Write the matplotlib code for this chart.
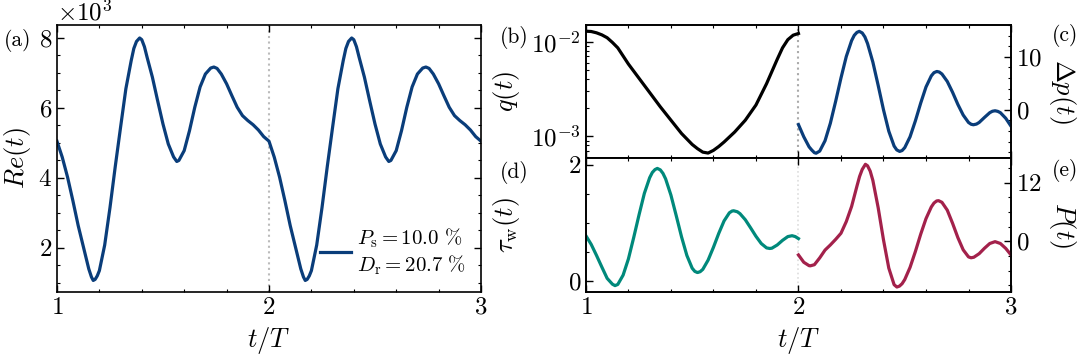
import matplotlib
matplotlib.use("Agg")
import matplotlib.pyplot as plt
import numpy as np
from matplotlib.ticker import AutoMinorLocator, NullFormatter

plt.rcParams['font.family'] = 'serif'
plt.rcParams['font.serif'] = ['cmr10']
plt.rcParams['mathtext.fontset'] = 'cm'
plt.rcParams['axes.unicode_minus'] = False
plt.rcParams['axes.formatter.use_mathtext'] = True
plt.rcParams['font.size'] = 18
plt.rcParams['axes.labelsize'] = 19

# colours
c_blue = '#0a3d7a'
c_teal = '#00897b'
c_red = '#a3214b'

# (a) Re(t), one period (t = 1..2), repeated for 2..3
t_re = [1.0, 1.025, 1.05, 1.075, 1.1, 1.125, 1.15, 1.1625, 1.171, 1.18,
        1.19, 1.2, 1.225, 1.25, 1.275, 1.3, 1.325, 1.35, 1.3625, 1.375,
        1.39, 1.4, 1.4125, 1.425, 1.45, 1.475, 1.5, 1.525, 1.55, 1.565,
        1.575, 1.6, 1.625, 1.65, 1.675, 1.7, 1.725, 1.74, 1.755, 1.775,
        1.8, 1.825, 1.85, 1.875, 1.9, 1.925, 1.95, 1.975, 2.0]
re_vals = [5050, 4590, 4020, 3350, 2640, 2020, 1400, 1170, 1070, 1100,
           1200, 1350, 2080, 3150, 4330, 5450, 6550, 7350, 7700, 7900,
           8000, 7950, 7750, 7450, 6880, 6200, 5540, 4970, 4600, 4470,
           4500, 4780, 5350, 6020, 6600, 6970, 7140, 7170, 7130, 6970,
           6690, 6350, 6020, 5780, 5640, 5520, 5370, 5180, 5050]

# (b) q(t), t = 1..2
t_q = [1.0, 1.025, 1.05, 1.075, 1.1, 1.125, 1.15, 1.2, 1.25, 1.3, 1.35,
       1.4, 1.45, 1.5, 1.525, 1.55, 1.575, 1.6, 1.625, 1.65, 1.7, 1.75,
       1.8, 1.85, 1.9, 1.925, 1.95, 1.975, 2.0]
q_vals = [1.29e-2, 1.28e-2, 1.24e-2, 1.18e-2, 1.10e-2, 9.8e-3, 8.6e-3,
          5.8e-3, 4.1e-3, 2.9e-3, 2.05e-3, 1.48e-3, 1.07e-3, 8.2e-4,
          7.4e-4, 6.8e-4, 6.65e-4, 7.1e-4, 7.8e-4, 8.7e-4, 1.11e-3,
          1.48e-3, 2.14e-3, 3.6e-3, 6.5e-3, 8.6e-3, 1.05e-2, 1.17e-2,
          1.22e-2]

# (c) Delta p(t), t = 2..3
t_dp = [2.0, 2.025, 2.05, 2.0625, 2.075, 2.083, 2.1, 2.125, 2.15, 2.175,
        2.2, 2.225, 2.25, 2.2625, 2.275, 2.286, 2.3, 2.3125, 2.325, 2.35,
        2.375, 2.4, 2.425, 2.45, 2.4625, 2.476, 2.4875, 2.5, 2.525, 2.55,
        2.575, 2.6, 2.625, 2.6375, 2.651, 2.6625, 2.675, 2.7, 2.725, 2.75,
        2.775, 2.8, 2.8125, 2.823, 2.8375, 2.85, 2.875, 2.9, 2.9125, 2.925,
        2.9375, 2.95, 2.975, 3.0]
dp_vals = [-2.8, -5.1, -7.0, -7.6, -8.1, -8.2, -7.8, -5.85, -2.55, 1.6,
           6.0, 10.05, 13.05, 14.05, 14.6, 14.8, 14.5, 13.75, 12.5, 9.0,
           4.6, 0.0, -4.05, -6.85, -7.58, -7.86, -7.7, -7.15, -5.1, -2.1,
           1.25, 4.3, 6.4, 7.0, 7.23, 7.12, 6.75, 5.35, 3.3, 1.0,
           -1.0, -2.4, -2.74, -2.83, -2.7, -2.4, -1.45, -0.55, -0.28, -0.19,
           -0.3, -0.55, -1.6, -3.1]

# (d) tau_w(t), t = 1..2
t_tau = [1.0, 1.025, 1.05, 1.075, 1.1, 1.125, 1.137, 1.15, 1.175, 1.2,
         1.225, 1.25, 1.275, 1.3, 1.3125, 1.325, 1.336, 1.35, 1.3625, 1.375,
         1.4, 1.425, 1.45, 1.475, 1.5, 1.5125, 1.525, 1.5375, 1.55, 1.575,
         1.6, 1.625, 1.65, 1.675, 1.6875, 1.695, 1.7125, 1.725, 1.75, 1.775,
         1.8, 1.825, 1.85, 1.865, 1.875, 1.9, 1.925, 1.95, 1.97, 1.985, 2.0]
tau_vals = [0.78, 0.63, 0.44, 0.24, 0.045, -0.056, -0.08, -0.06, 0.10, 0.38,
            0.75, 1.14, 1.51, 1.78, 1.87, 1.92, 1.94, 1.915, 1.855, 1.76,
            1.48, 1.125, 0.76, 0.44, 0.22, 0.165, 0.145, 0.16, 0.20, 0.36,
            0.58, 0.82, 1.035, 1.175, 1.205, 1.21, 1.193, 1.16, 1.055, 0.915,
            0.77, 0.645, 0.57, 0.56, 0.565, 0.62, 0.70, 0.765, 0.78, 0.765,
            0.73]

# (e) P(t), t = 2..3
t_p = [2.0, 2.025, 2.05, 2.056, 2.075, 2.1, 2.125, 2.15, 2.175, 2.2,
       2.225, 2.25, 2.275, 2.2875, 2.3, 2.315, 2.325, 2.3375, 2.35, 2.375,
       2.4, 2.425, 2.45, 2.463, 2.475, 2.4875, 2.5, 2.525, 2.55, 2.575,
       2.6, 2.625, 2.6375, 2.65, 2.659, 2.675, 2.7, 2.725, 2.75, 2.775,
       2.8, 2.812, 2.825, 2.85, 2.875, 2.9, 2.925, 2.95, 2.975, 3.0]
p_vals = [-2.8, -4.3, -5.0, -5.03, -4.8, -3.4, -1.8, -0.75, 0.4, 1.65,
          4.05, 7.15, 11.3, 13.3, 14.75, 15.8, 15.5, 14.4, 12.5, 6.9,
          0.3, -5.5, -8.9, -9.38, -9.2, -8.7, -7.85, -5.35, -2.1, 1.45,
          4.65, 7.05, 7.85, 8.28, 8.34, 8.0, 6.4, 3.7, 0.75, -1.75,
          -3.2, -3.38, -3.27, -2.54, -1.43, -0.45, -0.07, -0.45, -1.45, -2.8]


def style(ax, left=True, right=True, bottom=True, top=True):
    ax.tick_params(which='both', direction='in', left=left, right=right,
                   bottom=bottom, top=top)
    ax.tick_params(which='major', length=5, width=1)
    ax.tick_params(which='minor', length=2.5, width=0.8)
    for s in ax.spines.values():
        s.set_linewidth(1.2)


fig = plt.figure(figsize=(10.79, 3.55), dpi=100)
lw = 2.3

# panel (a)
ax_a = fig.add_axes([0.0528, 0.1775, 0.393, 0.752])
t_full = np.concatenate([t_re, np.array(t_re[1:]) + 1])
re_full = np.concatenate([re_vals, re_vals[1:]])
ax_a.plot(t_full, re_full, color=c_blue, lw=lw, solid_joinstyle='round',
          label='$P_\\mathrm{s} = 10.0\\ \\%$\n$D_\\mathrm{r} = 20.7\\ \\%$')
ax_a.axvline(2, color='#bbbbbb', ls=':', lw=1.5, zorder=0)
ax_a.set_xlim(1, 3)
ax_a.set_ylim(740, 8370)
ax_a.set_xticks([1, 2, 3])
ax_a.set_yticks([2000, 4000, 6000, 8000])
ax_a.xaxis.set_minor_locator(AutoMinorLocator(5))
ax_a.yaxis.set_minor_locator(AutoMinorLocator(4))
ax_a.ticklabel_format(axis='y', style='sci', scilimits=(3, 3), useMathText=True)
ax_a.set_xlabel('$t/T$')
ax_a.set_ylabel('$Re(t)$')
style(ax_a)
ax_a.legend(loc='lower right', frameon=False, handlelength=1.5,
            handletextpad=0.3, borderaxespad=0.3, fontsize=15)

# panels (b) and (c)
ax_b = fig.add_axes([0.543, 0.555, 0.394, 0.3746])
ax_b.semilogy(t_q, q_vals, color='black', lw=lw, solid_joinstyle='round')
ax_b.axvline(2, color='#aaaaaa', ls=':', lw=1.5, zorder=0)
ax_b.set_xlim(1, 3)
ax_b.set_ylim(5.9e-4, 1.5e-2)
ax_b.set_xticks([1, 2, 3])
ax_b.xaxis.set_minor_locator(AutoMinorLocator(5))
ax_b.yaxis.set_minor_formatter(NullFormatter())
ax_b.set_xticklabels([])
ax_b.set_ylabel('$q(t)$')
ax_b.yaxis.set_label_coords(-0.15, 0.5)
style(ax_b, right=False)

ax_c = ax_b.twinx()
ax_c.plot(t_dp, dp_vals, color=c_blue, lw=lw, solid_joinstyle='round')
ax_c.set_ylim(-9.1, 16)
ax_c.set_yticks([0, 10])
ax_c.yaxis.set_minor_locator(AutoMinorLocator(5))
ax_c.set_ylabel('$\\Delta p(t)$', rotation=270, va='center')
ax_c.yaxis.set_label_coords(1.12, 0.5)
style(ax_c, left=False, bottom=False, top=False)

# panels (d) and (e)
ax_d = fig.add_axes([0.543, 0.1775, 0.394, 0.3775])
ax_d.plot(t_tau, tau_vals, color=c_teal, lw=lw, solid_joinstyle='round')
ax_d.axvline(2, color='#dddddd', ls=':', lw=1.2, zorder=0)
ax_d.set_xlim(1, 3)
ax_d.set_ylim(-0.19, 2.12)
ax_d.set_xticks([1, 2, 3])
ax_d.set_yticks([0, 2])
ax_d.xaxis.set_minor_locator(AutoMinorLocator(5))
ax_d.yaxis.set_minor_locator(AutoMinorLocator(4))
ax_d.set_xlabel('$t/T$')
ax_d.set_ylabel('$\\tau_\\mathrm{w}(t)$')
ax_d.yaxis.set_label_coords(-0.15, 0.5)
style(ax_d, right=False)

ax_e = ax_d.twinx()
ax_e.plot(t_p, p_vals, color=c_red, lw=lw, solid_joinstyle='round')
ax_e.set_ylim(-10.4, 17.1)
ax_e.set_yticks([0, 12])
ax_e.yaxis.set_minor_locator(AutoMinorLocator(4))
ax_e.set_ylabel('$P(t)$', rotation=270, va='center')
ax_e.yaxis.set_label_coords(1.12, 0.5)
style(ax_e, left=False, bottom=False, top=False)

# panel letters
fig.text(0.004, 0.887, '(a)', va='center', fontsize=15.5)
fig.text(0.463, 0.893, '(b)', va='center', fontsize=15.5)
fig.text(0.975, 0.901, '(c)', va='center', fontsize=15.5)
fig.text(0.463, 0.515, '(d)', va='center', fontsize=15.5)
fig.text(0.975, 0.521, '(e)', va='center', fontsize=15.5)

fig.savefig('out.png', dpi=100)
